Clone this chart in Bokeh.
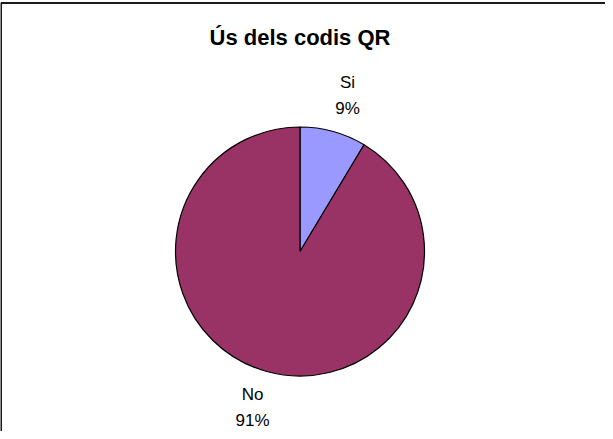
import math
from bokeh.plotting import figure
from bokeh.models import Range1d, ColumnDataSource
from bokeh.core.properties import value
from bokeh.embed import file_html
from bokeh.resources import INLINE

title = "Ús dels codis QR"
categories = ["Si", "No"]
shares = [8.6, 91.4]
colors = ["#9999FF", "#993366"]

W, H = 605, 431
p = figure(width=W, height=H, output_backend="svg", toolbar_location=None,
           x_range=Range1d(0, W), y_range=Range1d(0, H), min_border=0)
p.axis.visible = False
p.grid.visible = False
p.outline_line_color = None
p.background_fill_color = "white"
p.border_fill_color = "white"

# chart frame (extends beyond the window on right/bottom)
p.line(x=[0.5, 0.5, W + 5], y=[-5, H - 2.5, H - 2.5], line_color="#1a1a1a", line_width=2)

cx, cy, r = 299.5, 180.0, 124.5
total = sum(shares)
starts, ends, lx, ly, names, pcts = [], [], [], [], [], []
a = math.pi / 2
for c, s in zip(categories, shares):
    span = s / total * 2 * math.pi
    starts.append(a)
    ends.append(a - span)
    mid = a - span / 2
    lx.append(cx + 178 * math.cos(mid))
    ly.append(cy + 162 * math.sin(mid))
    names.append(c)
    pcts.append(f"{round(s / total * 100)}%")
    a -= span

src = ColumnDataSource(dict(start=starts, end=ends, color=colors, lx=lx, ly=ly,
                            name=names, pct=pcts))
p.wedge(x=cx, y=cy, radius=r, start_angle="start", end_angle="end", direction="clock",
        fill_color="color", line_color="black", line_width=1.2, source=src)

p.text(x="lx", y="ly", text="name", source=src, text_font=value("Liberation Sans"),
       text_font_size="17px", text_color="black", text_align="center",
       text_baseline="middle", y_offset=-13)
p.text(x="lx", y="ly", text="pct", source=src, text_font=value("Liberation Sans"),
       text_font_size="17px", text_color="black", text_align="center",
       text_baseline="middle", y_offset=13)

p.text(x=[cx], y=[H - 37], text=[title], text_font=value("Liberation Sans"),
       text_font_size="22px", text_font_style="bold", text_color="black",
       text_align="center", text_baseline="middle")

open("out.html", "w").write(file_html(p, INLINE))
